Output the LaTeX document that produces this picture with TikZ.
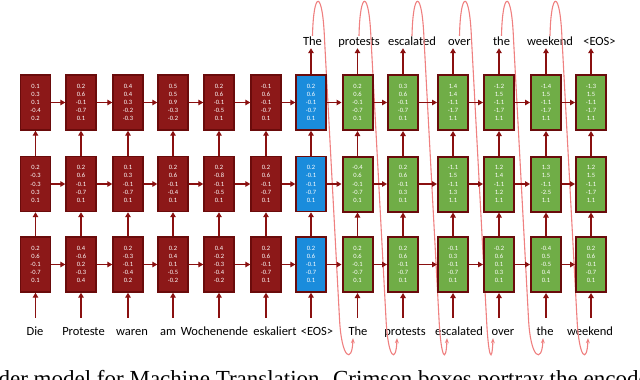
\documentclass[tikz,border=0pt]{standalone}
\usepackage{fontspec}
\setmainfont{Carlito}
\newfontfamily\captionfont{Liberation Serif}
\usetikzlibrary{arrows.meta, positioning, calc}
\definecolor{crimsonfill}{HTML}{8C1818}
\definecolor{crimsonedge}{HTML}{6A0B0B}
\definecolor{arrowred}{HTML}{8A1010}
\definecolor{eosblue}{HTML}{1A8CDC}
\definecolor{decgreen}{HTML}{70AD47}
\definecolor{feedpink}{HTML}{EF8080}

\begin{document}
\begin{tikzpicture}[
  x=1pt, y=-1pt,
  vecbox/.style={rectangle, draw=crimsonedge, line width=1.4pt, minimum width=30pt,
                 minimum height=55pt, inner sep=0pt, align=center, text=white,
                 font=\fontsize{6.5}{8.2}\selectfont},
  enc/.style={vecbox, fill=crimsonfill},
  eos/.style={vecbox, fill=eosblue},
  dec/.style={vecbox, fill=decgreen, line width=2pt},
  word/.style={font=\fontsize{12.5}{15}\selectfont, inner sep=0pt,
               text height=9pt, text depth=3pt, anchor=base},
  arr/.style={-{Triangle[length=5pt,width=5.5pt]}, line width=1.3pt, arrowred},
  feed/.style={-{Stealth[length=5pt,width=4pt]}, line width=1.1pt, feedpink},
]
  \useasboundingbox (0,0) rectangle (640,380);
  \clip (0,0) rectangle (640,380);

  % source and target words
  \foreach \c/\x/\w in {1/35/Die, 2/83.5/Proteste, 3/132/waren, 4/168/am,
      5/214.5/Wochenende, 6/275/eskaliert, 7/317/{<EOS>}, 8/358/The,
      9/405/protests, 10/459/escalated, 11/503/over, 12/545/the, 13/590/weekend}
    \node[word] (in\c) at (\x,335) {\w};
  \foreach \c/\x/\w in {7/312.5/The, 8/359/protests, 9/412/escalated,
      10/459.5/over, 11/501.5/the, 12/550/weekend, 13/599.5/{<EOS>}}
    \node[word] (out\c) at (\x,45) {\w};

  % each output word is fed back as the next input
  \foreach \c/\d/\s in {7/8/-5, 8/9/-8, 9/10/-12, 10/11/-10, 11/12/-2, 12/13/-2}
    \draw[feed] (out\c.north) .. controls +(1,-46) and +(-2,-50) .. ++(12,3)
      -- ++(15,280) .. controls +(2,40) and +(-1,26) .. ([xshift=\s pt]in\d.south);

  \foreach \c/\x/\kind/\va/\vb/\vc in {
    1/35.5/enc/{0.2\\0.6\\-0.1\\-0.7\\0.1}/{0.2\\-0.3\\-0.3\\0.3\\0.1}/{0.1\\0.3\\0.1\\-0.4\\0.2},
    2/81/enc/{0.4\\-0.6\\0.2\\-0.3\\0.4}/{0.2\\0.6\\-0.1\\-0.7\\0.1}/{0.2\\0.6\\-0.1\\-0.7\\0.1},
    3/128/enc/{0.2\\-0.3\\-0.1\\-0.4\\0.2}/{0.1\\0.3\\-0.1\\-0.7\\0.1}/{0.4\\0.4\\0.3\\-0.2\\-0.3},
    4/173/enc/{0.2\\0.4\\0.1\\-0.5\\-0.2}/{0.2\\0.6\\-0.1\\-0.4\\0.1}/{0.5\\0.5\\0.9\\-0.3\\-0.2},
    5/219/enc/{0.4\\-0.2\\-0.3\\-0.4\\-0.2}/{0.2\\-0.8\\-0.1\\-0.5\\0.1}/{0.2\\0.6\\-0.1\\-0.5\\0.1},
    6/266/enc/{0.2\\0.6\\-0.1\\-0.7\\0.1}/{0.2\\0.6\\-0.1\\-0.7\\0.1}/{-0.1\\0.6\\-0.1\\-0.7\\0.1},
    7/311/eos/{0.2\\0.6\\-0.1\\-0.7\\0.1}/{0.2\\-0.1\\-0.1\\-0.7\\0.1}/{0.2\\0.6\\-0.1\\-0.7\\0.1},
    8/357.5/dec/{0.2\\0.6\\-0.1\\-0.7\\0.1}/{-0.4\\0.6\\-0.1\\-0.7\\0.1}/{0.2\\0.6\\-0.1\\-0.7\\0.1},
    9/403/dec/{0.2\\0.6\\-0.1\\-0.7\\0.1}/{0.2\\0.6\\-0.1\\0.3\\0.1}/{0.3\\0.6\\-0.1\\-0.7\\0.1},
    10/453/dec/{-0.1\\0.3\\-0.1\\-0.7\\0.1}/{-1.1\\1.5\\-1.1\\1.3\\1.1}/{1.4\\1.4\\-1.1\\-1.7\\1.1},
    11/499/dec/{-0.2\\0.6\\0.1\\0.3\\0.1}/{1.2\\1.4\\-1.1\\1.2\\1.1}/{-1.2\\1.5\\-1.1\\-1.7\\1.1},
    12/546/dec/{-0.4\\0.5\\-0.5\\0.4\\0.1}/{1.3\\1.5\\-1.1\\-2.5\\1.1}/{-1.4\\1.5\\-1.1\\-1.7\\1.1},
    13/591/dec/{0.2\\0.6\\-0.1\\-0.7\\0.1}/{1.2\\1.5\\-1.1\\-1.7\\1.1}/{-1.3\\1.5\\-1.1\\-1.7\\1.1}}
  {
    \node[\kind] (l1-\c) at (\x,264.5) {\va};
    \node[\kind] (l2-\c) at (\x,184) {\vb};
    \node[\kind] (l3-\c) at (\x,102.5) {\vc};
  }

  \foreach \c in {1,...,13} {
    \draw[arr, shorten <=8pt] (l1-\c |- in\c.north) -- (l1-\c);
    \draw[arr] (l1-\c) -- (l2-\c);
    \draw[arr] (l2-\c) -- (l3-\c);
  }
  \foreach \c [evaluate=\c as \d using int(\c+1)] in {1,...,12} {
    \draw[arr] (l1-\c) -- (l1-\d);
    \draw[arr] (l2-\c) -- (l2-\d);
    \draw[arr] (l3-\c) -- (l3-\d);
  }
  \foreach \c in {7,...,13}
    \draw[arr] (l3-\c) -- (l3-\c |- out\c.south);

  \node[anchor=base west, inner sep=0pt, font=\captionfont\fontsize{23}{27}\selectfont]
    (caption) at (-45,386) {decoder model for Machine Translation. Crimson boxes portray the encoder};
\end{tikzpicture}
\end{document}
